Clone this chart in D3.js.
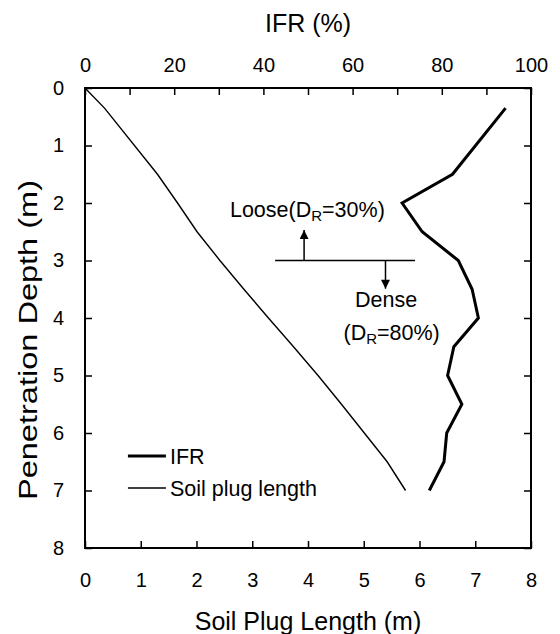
<!DOCTYPE html>
<meta charset="utf-8">
<head>
<script src="https://cdn.jsdelivr.net/npm/d3@7/dist/d3.min.js"></script>
<style>
  body { margin: 0; background: #fff; }
  text { font-family: "Liberation Sans", Arial, sans-serif; fill: #000; }
</style>
</head>
<body>
<svg id="chart"></svg>
<script>

// IFR profile (top axis)
var ifrDepth = [0.35, 1.5, 2, 2.5, 3, 3.5, 4, 4.5, 5, 5.5, 6, 6.5, 7];
var ifrValue = [94.3, 82.4, 71.1, 75.6, 83.7, 86.8, 88.2, 82.7, 81.3, 84.5, 81.1, 80.5, 77.2];

// soil plug length (bottom axis)
var plugDepth = [0, 0.35, 1.5, 2, 2.5, 3, 3.5, 4, 4.5, 5, 5.5, 6, 6.5, 7];
var plugLength = [0, 0.35, 1.3, 1.66, 2.01, 2.42, 2.85, 3.29, 3.74, 4.18, 4.6, 5.01, 5.42, 5.75];

var depthTicks = [0, 1, 2, 3, 4, 5, 6, 7, 8];
var lengthTicks = [0, 1, 2, 3, 4, 5, 6, 7, 8];
var ifrTicks = [0, 10, 20, 30, 40, 50, 60, 70, 80, 90, 100];
var ifrLabels = [0, 20, 40, 60, 80, 100];

var W = 560, H = 634;
var margin = {top: 88, right: 29, bottom: 86, left: 85};
var width = W - margin.left - margin.right,
    height = H - margin.top - margin.bottom;

var svg = d3.select("#chart").attr("width", W).attr("height", H);
var g = svg.append("g").attr("transform", "translate(" + margin.left + "," + margin.top + ")");

var y = d3.scaleLinear().domain([0, 8]).range([0, height]);
var xLen = d3.scaleLinear().domain([0, 8]).range([0, width]);
var xIfr = d3.scaleLinear().domain([0, 100]).range([0, width]);

var tick = 7;

// axes, ticks pointing inward
var axBottom = g.append("g").attr("transform", "translate(0," + height + ")")
  .call(d3.axisBottom(xLen).tickValues(lengthTicks).tickSizeInner(-tick).tickSizeOuter(0).tickPadding(25));
var axTop = g.append("g")
  .call(d3.axisTop(xIfr).tickValues(ifrTicks).tickSizeInner(-tick).tickSizeOuter(0).tickPadding(16)
    .tickFormat(function(d){ return ifrLabels.indexOf(d) >= 0 ? d : ""; }));
var axLeft = g.append("g")
  .call(d3.axisLeft(y).tickValues(depthTicks).tickSizeInner(-tick).tickSizeOuter(0).tickPadding(21));
var axRight = g.append("g").attr("transform", "translate(" + width + ",0)")
  .call(d3.axisRight(y).tickValues(depthTicks).tickSizeInner(-tick).tickSizeOuter(0).tickFormat(""));

[axBottom, axTop, axLeft, axRight].forEach(function(a){
  a.attr("font-size", null).attr("font-family", null);
  a.select(".domain").remove();
  a.selectAll(".tick line").attr("stroke", "#000").attr("stroke-width", 1.5);
  a.selectAll(".tick text").style("font-size", "20px").attr("fill", "#000");
});

g.append("rect")
  .attr("width", width).attr("height", height)
  .attr("fill", "none").attr("stroke", "#000").attr("stroke-width", 2);

// lines
var plugLine = d3.line()
  .x(function(d, i){ return xLen(plugLength[i]); })
  .y(function(d){ return y(d); });
g.append("path").datum(plugDepth)
  .attr("d", plugLine)
  .attr("fill", "none").attr("stroke", "#000").attr("stroke-width", 1.4);

var ifrLine = d3.line()
  .x(function(d, i){ return xIfr(ifrValue[i]); })
  .y(function(d){ return y(d); });
g.append("path").datum(ifrDepth)
  .attr("d", ifrLine)
  .attr("fill", "none").attr("stroke", "#000").attr("stroke-width", 3).attr("stroke-linejoin", "miter");

// boundary between loose and dense layers
g.append("line")
  .attr("x1", xLen(3.41)).attr("x2", xLen(5.92))
  .attr("y1", y(3)).attr("y2", y(3))
  .attr("stroke", "#000").attr("stroke-width", 1.5);

svg.append("defs").append("marker")
  .attr("id", "head").attr("viewBox", "0 0 10 10")
  .attr("refX", 10).attr("refY", 5)
  .attr("markerWidth", 12).attr("markerHeight", 9)
  .attr("markerUnits", "userSpaceOnUse")
  .attr("orient", "auto")
  .append("path").attr("d", "M0,0L10,5L0,10Z").attr("fill", "#000");

g.append("line")
  .attr("x1", xLen(3.93)).attr("x2", xLen(3.93))
  .attr("y1", y(3)).attr("y2", y(2.47))
  .attr("stroke", "#000").attr("stroke-width", 1.5).attr("marker-end", "url(#head)");
g.append("line")
  .attr("x1", xLen(5.39)).attr("x2", xLen(5.39))
  .attr("y1", y(3)).attr("y2", y(3.49))
  .attr("stroke", "#000").attr("stroke-width", 1.5).attr("marker-end", "url(#head)");

function drLabel(x, yy, before, after, anchor) {
  var t = g.append("text").attr("x", x).attr("y", yy)
    .attr("text-anchor", anchor).style("font-size", "21.5px");
  t.append("tspan").text(before + "(D");
  t.append("tspan").attr("dy", 4).style("font-size", "15px").text("R");
  t.append("tspan").attr("dy", -4).text("=" + after + ")");
}
drLabel(xLen(2.6), y(2.24), "Loose", "30%", "start");
g.append("text").attr("x", xLen(5.4)).attr("y", y(3.8))
  .attr("text-anchor", "middle").style("font-size", "21.5px").text("Dense");
drLabel(xLen(5.5), y(4.38), "", "80%", "middle");

// legend
var legend = [{name: "IFR", w: 3}, {name: "Soil plug length", w: 1.4}];
var lg = g.append("g").attr("transform", "translate(" + xLen(0.77) + "," + y(6.4) + ")");
legend.forEach(function(d, i){
  lg.append("line").attr("x1", 0).attr("x2", 38).attr("y1", i * 32).attr("y2", i * 32)
    .attr("stroke", "#000").attr("stroke-width", d.w);
  lg.append("text").attr("x", 42).attr("y", i * 32 + 7.5)
    .style("font-size", "21.5px").text(d.name);
});

// axis titles
svg.append("text").attr("x", margin.left + width / 2).attr("y", 31.5)
  .attr("text-anchor", "middle").style("font-size", "25px").text("IFR (%)");
svg.append("text").attr("x", margin.left + width / 2).attr("y", 630)
  .attr("text-anchor", "middle").style("font-size", "25px").text("Soil Plug Length (m)");
svg.append("text")
  .attr("transform", "translate(37,340) rotate(-90)")
  .attr("text-anchor", "middle").style("font-size", "25px")
  .attr("textLength", 320).attr("lengthAdjust", "spacingAndGlyphs")
  .text("Penetration Depth (m)");

</script>
</body>
